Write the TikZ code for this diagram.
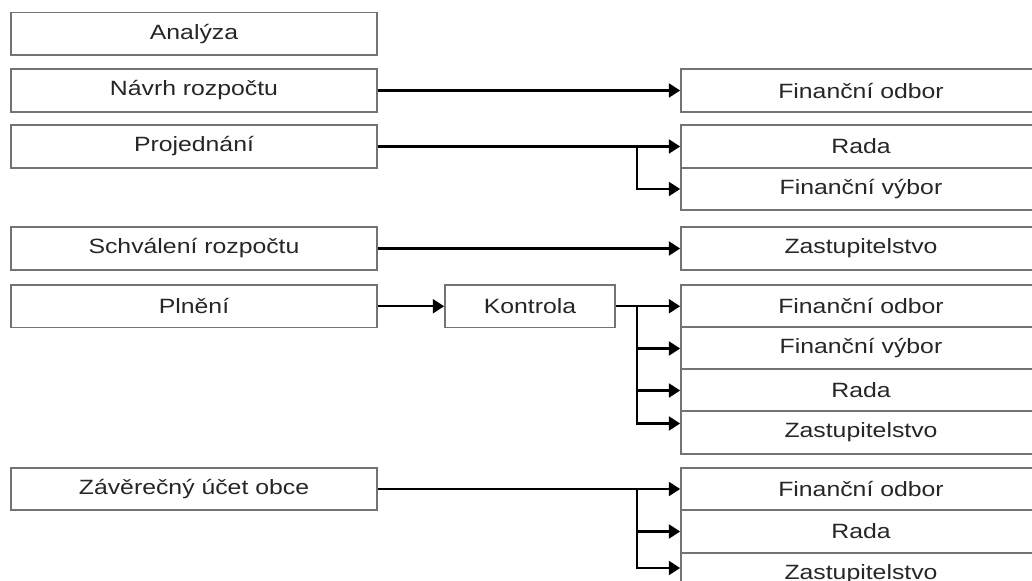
\documentclass[tikz,border=0pt]{standalone}
\usepackage{fontspec}
\setmainfont{Liberation Sans}[FakeStretch=1.2]
\usetikzlibrary{arrows.meta}
\tikzset{
    stage/.style={draw=black!55, line width=1.3pt, fill=white, inner sep=0pt,
        minimum width=274.5pt, minimum height=31.875pt, text=black!85,
        font=\fontsize{15.5}{18}\selectfont},
    check/.style={stage, minimum width=127.5pt},
    body/.style={stage, minimum width=270pt},
    flow/.style={line width=1.8pt, -{Triangle[length=8.5pt, width=10.5pt]}},
    link/.style={line width=1.8pt}
}
\begin{document}
\begin{tikzpicture}[x=0.75pt, y=-0.75pt]
    \useasboundingbox (0,0) rectangle (1032,581);
    \clip (0,0) rectangle (1032,581);
    \def\l{194}
    \def\r{861}
    \def\j{637}
    \node [stage] (L0) at (\l, 33.75) {Analýza};
    \node [stage] (L1) at (\l, 90.5) {Návrh rozpočtu};
    \node [stage] (L2) at (\l, 146.5) {Projednání};
    \node [stage] (L3) at (\l, 248.5) {Schválení rozpočtu};
    \node [stage] (L4) at (\l, 306.25) {Plnění};
    \node [stage] (L5) at (\l, 489) {Závěrečný účet obce};
    \node [check] (K) at (530, 306.25) {Kontrola};
    \node [body] (R1_0) at (\r, 90.5) {Finanční odbor};
    \node [body] (R2_0) at (\r, 146.5) {Rada};
    \node [body] (R2_1) at (\r, 189) {Finanční výbor};
    \node [body] (R3_0) at (\r, 248.5) {Zastupitelstvo};
    \node [body] (R4_0) at (\r, 306.25) {Finanční odbor};
    \node [body] (R4_1) at (\r, 348.5) {Finanční výbor};
    \node [body] (R4_2) at (\r, 390.5) {Rada};
    \node [body] (R4_3) at (\r, 432.5) {Zastupitelstvo};
    \node [body] (R5_0) at (\r, 489) {Finanční odbor};
    \node [body] (R5_1) at (\r, 531.5) {Rada};
    \node [body] (R5_2) at (\r, 574) {Zastupitelstvo};
    \coordinate (J2) at (L2.east -| \j,0);
    \coordinate (J4) at (K.east -| \j,0);
    \coordinate (J5) at (L5.east -| \j,0);
    \draw [flow] (L1.east) -- (R1_0.west);
    \draw [flow] (L2.east) -- (R2_0.west);
    \draw [flow] (J2) |- (R2_1.west);
    \draw [flow] (L3.east) -- (R3_0.west);
    \draw [flow] (L4.east) -- (K.west);
    \draw [flow] (K.east) -- (R4_0.west);
    \draw [flow] (J4) |- (R4_1.west);
    \draw [flow] (J4) |- (R4_2.west);
    \draw [flow] (J4) |- ([yshift=6.75pt]R4_3.west);
    \draw [flow] (L5.east) -- (R5_0.west);
    \draw [flow] (J5) |- (R5_1.west);
    \draw [flow] (J5) |- ([yshift=4.5pt]R5_2.west);
\end{tikzpicture}
\end{document}
